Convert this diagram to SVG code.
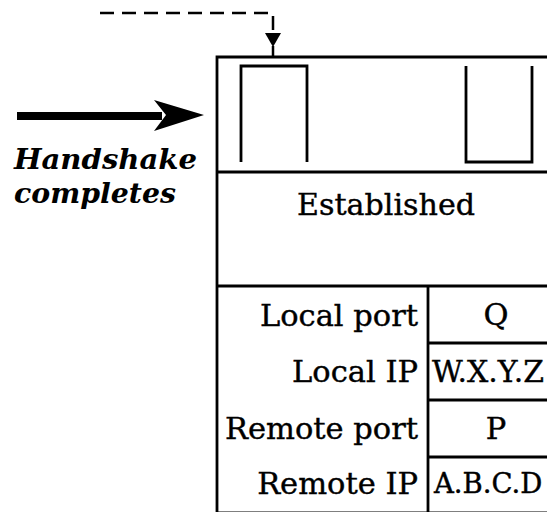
<svg xmlns="http://www.w3.org/2000/svg" width="547" height="512" viewBox="0 0 547 512">
<style>
.ln{fill:none;stroke:#000;stroke-width:2.8}
.t{font-family:"DejaVu Serif","Liberation Serif",serif;font-size:30.5px;fill:#000;stroke:#000;stroke-width:0.4}
.lbl{font-family:"DejaVu Serif","Liberation Serif",serif;font-size:28px;font-weight:bold;font-style:italic;fill:#000}
</style>
<rect width="547" height="512" fill="#fff"/>
<g id="tcb">
<path class="ln" d="M217,513 V57 H549"/>
<path class="ln" d="M241,162 V66 H307 V162"/>
<path class="ln" d="M466,66 V162 H532 V66"/>
<path class="ln" d="M217,172 H549"/>
<text class="t" x="386" y="215" text-anchor="middle" textLength="178" lengthAdjust="spacingAndGlyphs">Established</text>
<path class="ln" d="M217,286 H549"/>
<path class="ln" d="M428,286 V513"/>
<path class="ln" d="M428,343 H549 M428,400 H549 M428,457 H549"/>
<path class="ln" d="M217,513 H549"/>
<text class="t" x="418" y="326" text-anchor="end">Local port</text>
<text class="t" x="418" y="382" text-anchor="end">Local IP</text>
<text class="t" x="418" y="439" text-anchor="end">Remote port</text>
<text class="t" x="418" y="494" text-anchor="end">Remote IP</text>
<text class="t" x="496" y="325" text-anchor="middle">Q</text>
<text class="t" x="432" y="382" textLength="112" lengthAdjust="spacingAndGlyphs">W.X.Y.Z</text>
<text class="t" x="434" y="493" style="font-size:27.5px">A.B.C.D</text>
<text class="t" x="496" y="439" text-anchor="middle">P</text>
</g>
<g id="handshake-label">
<text class="lbl" x="14" y="169" textLength="183" lengthAdjust="spacingAndGlyphs">Handshake</text>
<text class="lbl" x="14" y="203" textLength="162" lengthAdjust="spacingAndGlyphs">completes</text>
</g>
<g id="connectors">
<path d="M17,116 H162" stroke="#000" stroke-width="8" fill="none"/>
<path d="M204,115 L154,100 L166,115 L154,131 Z" fill="#000"/>
<path d="M100,13 H273 V30" stroke="#000" stroke-width="2.5" fill="none" stroke-dasharray="14 8"/>
<path d="M265,33 H281 L273,47 Z" fill="#000"/>
<path d="M273,46 V57" stroke="#000" stroke-width="2.5"/>
</g>
</svg>
